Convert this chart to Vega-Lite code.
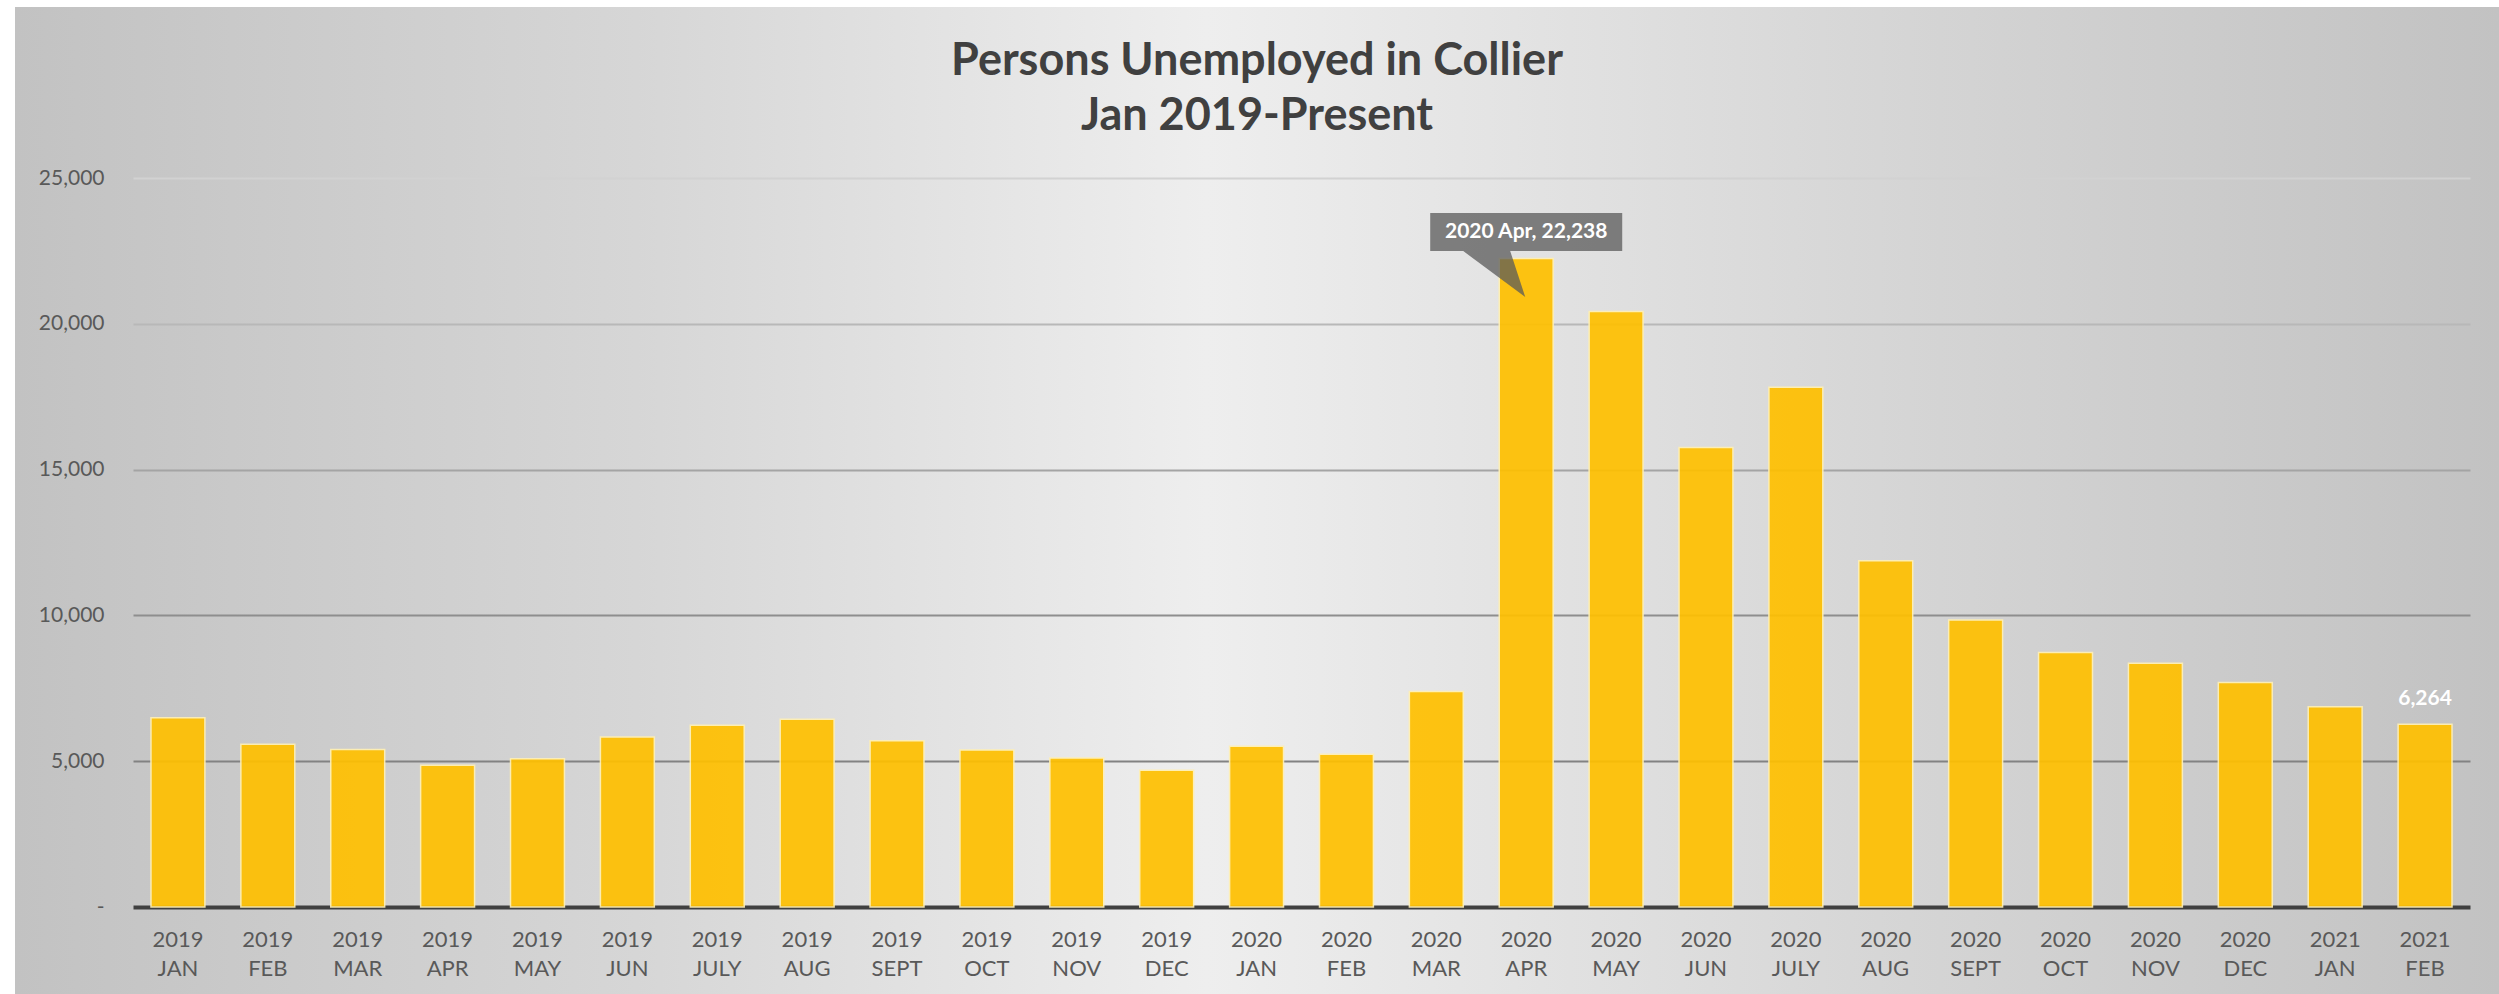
{
  "$schema": "https://vega.github.io/schema/vega-lite/v6.json",
  "width": 2484,
  "height": 987,
  "autosize": "none",
  "padding": {"left": 15, "top": 7, "right": 0, "bottom": 0},
  "background": "#ffffff",
  "title": {
    "text": ["Persons Unemployed in Collier", "Jan 2019-Present"],
    "anchor": "middle",
    "frame": "group",
    "font": "Lato",
    "fontSize": 45,
    "fontWeight": "bold",
    "color": "#404040",
    "lineHeight": 55,
    "offset": -132
  },
  "config": {
    "font": "Lato",
    "view": {
      "stroke": null,
      "fill": {
        "gradient": "linear",
        "x1": 0, "y1": 0, "x2": 1, "y2": 0,
        "stops": [
          {"offset": 0, "color": "#c2c2c2"},
          {"offset": 0.25, "color": "#d6d6d6"},
          {"offset": 0.48, "color": "#eeeeee"},
          {"offset": 0.75, "color": "#d6d6d6"},
          {"offset": 1, "color": "#c2c2c2"}
        ]
      }
    }
  },
  "data": {
    "values": [
      {"period": "2019 JAN", "value": 6490},
      {"period": "2019 FEB", "value": 5580},
      {"period": "2019 MAR", "value": 5400},
      {"period": "2019 APR", "value": 4860},
      {"period": "2019 MAY", "value": 5080},
      {"period": "2019 JUN", "value": 5830},
      {"period": "2019 JULY", "value": 6230},
      {"period": "2019 AUG", "value": 6440},
      {"period": "2019 SEPT", "value": 5700},
      {"period": "2019 OCT", "value": 5380},
      {"period": "2019 NOV", "value": 5110},
      {"period": "2019 DEC", "value": 4690},
      {"period": "2020 JAN", "value": 5510},
      {"period": "2020 FEB", "value": 5240},
      {"period": "2020 MAR", "value": 7390},
      {"period": "2020 APR", "value": 22238, "note": "2020 Apr,  22,238"},
      {"period": "2020 MAY", "value": 20420},
      {"period": "2020 JUN", "value": 15760},
      {"period": "2020 JULY", "value": 17820},
      {"period": "2020 AUG", "value": 11870},
      {"period": "2020 SEPT", "value": 9840},
      {"period": "2020 OCT", "value": 8730},
      {"period": "2020 NOV", "value": 8360},
      {"period": "2020 DEC", "value": 7700},
      {"period": "2021 JAN", "value": 6870},
      {"period": "2021 FEB", "value": 6264, "note": "6,264"}
    ]
  },
  "encoding": {
    "x": {
      "field": "period",
      "type": "nominal",
      "sort": null,
      "scale": {"range": [118, 2455], "paddingInner": 0.4, "paddingOuter": 0.2},
      "axis": {
        "orient": "bottom",
        "offset": -87,
        "domain": false,
        "ticks": false,
        "tickSize": 0,
        "grid": false,
        "title": null,
        "labelAngle": 0,
        "labelPadding": 22,
        "labelExpr": "split(datum.label, ' ')",
        "labelFont": "Lato",
        "labelFontSize": 22,
        "labelLineHeight": 29,
        "labelColor": "#595959"
      }
    },
    "y": {
      "field": "value",
      "type": "quantitative",
      "scale": {"domain": [0, 25000], "range": [900, 171], "nice": false},
      "axis": {
        "orient": "left",
        "offset": -89,
        "values": [0, 5000, 10000, 15000, 20000, 25000],
        "domain": false,
        "ticks": false,
        "tickSize": 0,
        "title": null,
        "labelPadding": 0,
        "labelExpr": "datum.value == 0 ? '-' : format(datum.value, ',')",
        "labelFont": "Lato",
        "labelFontSize": 21,
        "labelColor": "#595959",
        "grid": true,
        "gridColor": {
          "condition": [
            {"test": "datum.value === 0", "value": "#404040"},
            {"test": "datum.value === 25000", "value": "#d2d2d2"},
            {"test": "datum.value === 20000", "value": "#b8b8b8"},
            {"test": "datum.value === 15000", "value": "#a4a4a4"},
            {"test": "datum.value === 10000", "value": "#8e8e8e"}
          ],
          "value": "#828282"
        },
        "gridWidth": {
          "condition": {"test": "datum.value === 0", "value": 4},
          "value": 2
        },
        "gridOpacity": 1
      }
    }
  },
  "layer": [
    {
      "mark": {
        "type": "bar",
        "color": "#ffc000",
        "opacity": 0.92,
        "stroke": "#fff0b3",
        "strokeWidth": 1.5
      }
    },
    {
      "transform": [{"filter": "datum.period === '2020 APR'"}],
      "mark": {
        "type": "point",
        "filled": true,
        "shape": "M-1,-0.474 H1 V-0.078 H-0.167 L-0.01,0.401 L-0.656,-0.078 H-1 Z",
        "size": 36864,
        "color": "#595959",
        "opacity": 0.75,
        "strokeWidth": 0
      }
    },
    {
      "transform": [{"filter": "datum.period === '2020 APR'"}],
      "mark": {
        "type": "text",
        "dy": -26.5,
        "baseline": "middle",
        "align": "center",
        "font": "Lato",
        "fontSize": 21,
        "fontWeight": "bold",
        "color": "#ffffff"
      },
      "encoding": {"text": {"field": "note"}}
    },
    {
      "transform": [{"filter": "datum.period === '2021 FEB'"}],
      "mark": {
        "type": "text",
        "dy": -25.5,
        "baseline": "middle",
        "align": "center",
        "font": "Lato",
        "fontSize": 21,
        "fontWeight": "bold",
        "color": "#ffffff"
      },
      "encoding": {"text": {"field": "note"}}
    }
  ]
}
